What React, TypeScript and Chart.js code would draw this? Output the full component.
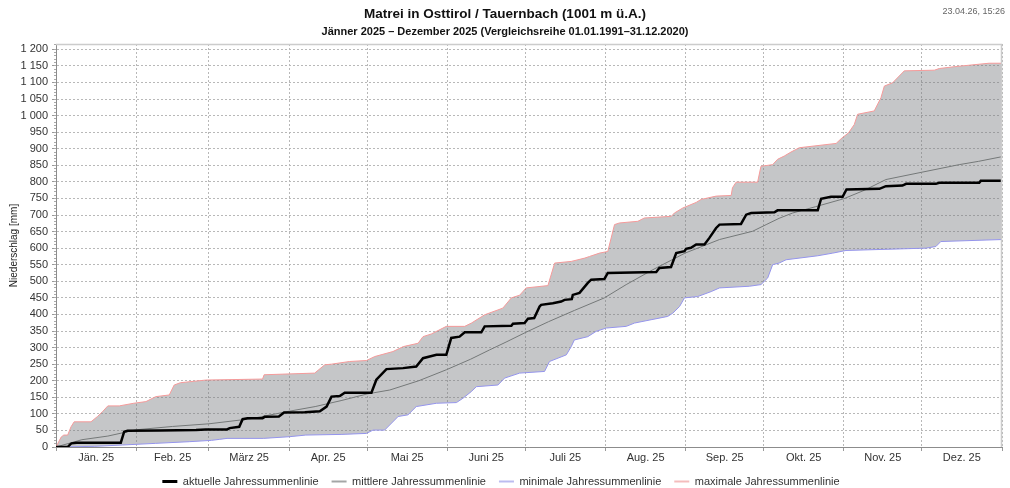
import { useEffect, useRef } from 'react';
import { Chart, registerables } from 'chart.js';

Chart.register(...registerables);

const FONT = '"Liberation Sans", Arial, Helvetica, sans-serif';

const TITLE = 'Matrei in Osttirol / Tauernbach (1001 m ü.A.)';
const SUBTITLE = 'Jänner 2025 – Dezember 2025 (Vergleichsreihe 01.01.1991–31.12.2020)';
const STAMP = '23.04.26, 15:26';
const Y_TITLE = 'Niederschlag [mm]';

// day-of-year at which each month starts (last = end of year)
const monthStarts = [0, 31, 59, 90, 120, 151, 181, 212, 243, 273, 304, 334, 365];
const monthLabels = ['Jän. 25', 'Feb. 25', 'März 25', 'Apr. 25', 'Mai 25', 'Juni 25', 'Juli 25', 'Aug. 25', 'Sep. 25', 'Okt. 25', 'Nov. 25', 'Dez. 25'];
const yTickValues = [0, 50, 100, 150, 200, 250, 300, 350, 400, 450, 500, 550, 600, 650, 700, 750, 800, 850, 900, 950, 1000, 1050, 1100, 1150, 1200];

const seriesLabels = ['aktuelle Jahressummenlinie', 'mittlere Jahressummenlinie', 'minimale Jahressummenlinie', 'maximale Jahressummenlinie'];
const legendColors = ['#000000', '#a4a6a6', '#bcbcf0', '#f4bcbc'];

// [day of year, cumulative precipitation mm]
const actualLine: [number, number][] = [
  [0, 0], [4.5, 0], [5.5, 8], [6, 11], [8, 13], [25, 13], [26.3, 46], [27.6, 49], [40, 50], [54, 51], [57.8, 53], [66, 53], [67, 57], [70.7, 61],
  [72, 84], [73.9, 87], [79.7, 87], [80.5, 91], [86, 92], [88, 104], [96, 105], [101.8, 108], [104.4, 122], [106.3, 152], [109.5, 154],
  [111.4, 164], [121.7, 164], [123.6, 203], [127.5, 235], [133.9, 238], [139, 243], [141.6, 268], [146.8, 278], [150.6, 278], [152.5, 329],
  [155.7, 333], [157.7, 346], [164.1, 346], [165.4, 364], [175.7, 366], [176.3, 372], [180.8, 374], [182.1, 387], [184.5, 389], [186.6, 424],
  [187.2, 429], [191.7, 434], [194.9, 439], [196.2, 444], [199, 446], [199.4, 459], [202, 465], [205.2, 495], [206.5, 505], [211.6, 507],
  [212.9, 525], [231.6, 528], [232.8, 540], [237.3, 543], [239.3, 585], [242.5, 591], [243.1, 598], [245, 601], [247, 611], [250.2, 611],
  [252.1, 631], [254.7, 661], [256, 671], [264.3, 673], [266.3, 701], [268.2, 706], [277.2, 708], [278.4, 714], [293.9, 714], [295.2, 749],
  [299, 755], [303.5, 755], [305, 777], [317.7, 779], [320.2, 787], [326.6, 789], [328, 794], [339.5, 794], [340.8, 797], [356.2, 797],
  [356.8, 803], [365, 803],
];

const meanLine: [number, number][] = [
  [0, 0], [10, 22], [20, 33], [31, 52], [45, 62], [59, 70], [75, 85], [90, 108], [100, 122], [110, 140], [120, 160], [128.8, 172], [140, 200],
  [150.6, 233], [160, 265], [167.3, 293], [174, 318], [181, 345], [190, 378], [200, 412], [211.6, 450], [220, 490], [230.3, 535], [242.7, 585],
  [256, 626], [268.8, 651], [274, 671], [279, 690], [284.2, 706], [293, 725], [303.9, 749], [312, 775], [320.2, 807], [334, 829], [348.5, 852],
  [356, 862], [365, 876],
];

const minLine: [number, number][] = [
  [0, 0], [15, 2], [25.7, 6], [38.5, 11], [51.4, 16], [60, 20], [63, 23], [66, 26], [80, 26], [90, 31], [96.4, 36], [110, 38], [119.8, 41],
  [122.3, 51], [126.8, 51], [132, 92], [135.8, 97], [139, 122], [146.8, 132], [154.5, 134], [157, 147], [160.2, 167], [162.2, 182], [170.5, 187],
  [173.1, 208], [178.9, 223], [188.5, 228], [190.4, 258], [196.9, 278], [198.8, 303], [200, 323], [205.2, 333], [208.4, 349], [212.3, 359],
  [220, 364], [223.2, 374], [229.6, 384], [236, 394], [238, 404], [240.6, 424], [242.5, 450], [247.6, 454], [252.8, 469], [256, 480],
  [267.5, 485], [272, 490], [274.6, 510], [276.5, 550], [279, 555], [281.7, 565], [293.9, 577], [299.7, 585], [304.8, 593], [335.7, 600],
  [339.5, 605], [341.4, 620], [365, 626],
];

const maxLine: [number, number][] = [
  [0, 0], [2, 30], [3, 36], [4.5, 36], [5.8, 61], [7, 76], [13.5, 76], [16, 92], [18, 107], [20, 124], [24.4, 124], [30, 132], [34.7, 137],
  [38.5, 152], [43.7, 157], [45.6, 187], [48, 194], [57.8, 202], [79.7, 205], [80.3, 218], [99.8, 223], [103.7, 248], [106.3, 250],
  [113.3, 258], [119.8, 261], [123, 273], [130, 288], [134, 303], [139.7, 313], [141.6, 333], [144.8, 341], [150.6, 364], [157.7, 364],
  [160.3, 374], [165.4, 399], [172.4, 419], [175.7, 450], [178.9, 458], [181.4, 480], [189.8, 487], [192.4, 555], [198.8, 560], [201.4, 565],
  [204, 570], [205.9, 575], [209.7, 585], [212.9, 590], [215.5, 671], [217.4, 676], [224.5, 681], [227, 691], [237.4, 696], [238.6, 706],
  [241.8, 721], [247, 738], [248.9, 747], [254.7, 757], [260.5, 759], [261, 782], [262.4, 799], [270.7, 799], [272, 847], [276.5, 852],
  [278.4, 868], [281, 878], [283.6, 890], [286.8, 903], [301, 916], [302.9, 930], [305.8, 948], [308, 973], [309.3, 1004], [315.7, 1014],
  [318.3, 1054], [319.6, 1089], [322.8, 1099], [327.3, 1135], [338.9, 1137], [340.8, 1142], [347.2, 1148], [360, 1158], [365, 1158],
];

const monthMids = monthLabels.map((_, i) => (monthStarts[i] + monthStarts[i + 1]) / 2);
const xTickValues = [...monthStarts, ...monthMids].sort((a, b) => a - b);

const toPoints = (arr: [number, number][]) => arr.map(([x, y]) => ({ x, y }));
const fmt = (v: number) => String(v).replace(/\B(?=(\d{3})+(?!\d))/g, ' ');

const headerPlugin = {
  id: 'header',
  afterDraw(chart: any) {
    const { ctx, chartArea: a } = chart;
    ctx.save();
    ctx.strokeStyle = '#cccccc';
    ctx.lineWidth = 1.5;
    ctx.beginPath();
    ctx.moveTo(a.left, a.top + 0.5);
    ctx.lineTo(a.right - 0.5, a.top + 0.5);
    ctx.lineTo(a.right - 0.5, a.bottom);
    ctx.stroke();

    ctx.fillStyle = '#111';
    ctx.textAlign = 'center';
    ctx.textBaseline = 'middle';
    ctx.font = `bold 13.5px ${FONT}`;
    ctx.fillText(TITLE, chart.width / 2, 14);
    ctx.font = `bold 11px ${FONT}`;
    ctx.fillText(SUBTITLE, chart.width / 2, 32);
    ctx.font = `9px ${FONT}`;
    ctx.fillStyle = '#666';
    ctx.textAlign = 'right';
    ctx.fillText(STAMP, 1005, 12);
    ctx.restore();
  },
};

export default function App() {
  const ref = useRef<HTMLCanvasElement>(null);

  useEffect(() => {
    const isStart = (v: any) => monthStarts.includes(v);
    const defaultLabels = (Chart.defaults as any).plugins.legend.labels.generateLabels;
    const chart = new Chart(ref.current as HTMLCanvasElement, {
      type: 'line',
      data: {
        datasets: [
          { label: seriesLabels[0], data: toPoints(actualLine), borderColor: '#000000', backgroundColor: '#000000', borderWidth: 2.5, pointRadius: 0, fill: false },
          { label: seriesLabels[1], data: toPoints(meanLine), borderColor: '#747878', backgroundColor: '#747878', borderWidth: 1, pointRadius: 0, fill: false },
          { label: seriesLabels[2], data: toPoints(minLine), borderColor: '#9494ec', backgroundColor: '#9494ec', borderWidth: 1, pointRadius: 0, fill: false },
          { label: seriesLabels[3], data: toPoints(maxLine), borderColor: '#f59a9a', backgroundColor: 'rgba(120,122,128,0.43)', borderWidth: 1, pointRadius: 0, fill: { target: 2 } },
        ],
      } as any,
      options: {
        responsive: false,
        animation: false,
        events: [],
        layout: { padding: { top: 44, right: 8, left: 0, bottom: 0 } },
        scales: {
          x: {
            type: 'linear',
            min: 0,
            max: 365,
            afterBuildTicks: (s: any) => { s.ticks = xTickValues.map((v) => ({ value: v })); },
            afterFit: (s: any) => { s.height = 16; },
            ticks: {
              autoSkip: false,
              maxRotation: 0,
              padding: 0,
              color: '#333',
              font: { family: FONT, size: 11 },
              callback: (v: any) => { const i = monthMids.indexOf(v); return i >= 0 ? monthLabels[i] : ''; },
            },
            grid: {
              color: (c: any) => (isStart(c.tick?.value) ? '#b8b8b8' : 'rgba(0,0,0,0)'),
              tickColor: (c: any) => (isStart(c.tick?.value) ? '#999' : 'rgba(0,0,0,0)'),
              tickLength: 4,
              lineWidth: 1,
            },
            border: { display: true, color: '#8c8c8c', dash: [2, 2] },
          },
          y: {
            type: 'linear',
            position: 'left',
            weight: 1,
            min: 0,
            max: 1216,
            afterBuildTicks: (s: any) => { s.ticks = yTickValues.map((v) => ({ value: v })); },
            afterFit: (s: any) => { s.width = 56; },
            ticks: { padding: 4, color: '#333', font: { family: FONT, size: 11 }, callback: (v: any) => fmt(v) },
            grid: { color: '#b8b8b8', tickColor: '#999', tickLength: 4, lineWidth: 1 },
            border: { display: true, color: '#8c8c8c', dash: [2, 2] },
            title: { display: true, text: Y_TITLE, color: '#222', font: { family: FONT, size: 10 }, padding: { top: 8, bottom: 0 } },
          },
          yMinor: {
            type: 'linear',
            position: 'left',
            weight: 0,
            min: 0,
            max: 1216,
            ticks: { display: false, stepSize: 10 },
            afterFit: (s: any) => { s.width = 0; },
            grid: { drawOnChartArea: false, tickLength: 2, tickColor: '#aaa' },
            border: { display: false },
          },
        },
        plugins: {
          title: { display: false },
          tooltip: { enabled: false },
          legend: {
            position: 'bottom',
            maxHeight: 25,
            labels: {
              usePointStyle: true,
              pointStyle: 'line',
              pointStyleWidth: 15,
              padding: 13,
              color: '#333',
              font: { family: FONT, size: 11 },
              generateLabels: (ch: any) =>
                defaultLabels(ch).map((l: any, i: number) => ({
                  ...l,
                  strokeStyle: legendColors[i],
                  lineWidth: i === 0 ? 3 : 2,
                })),
            },
          },
        },
      } as any,
      plugins: [headerPlugin],
    });
    return () => chart.destroy();
  }, []);

  return (
    <div style={{ position: 'absolute', left: 0, top: 0, width: 1010, height: 488, background: '#fff' }}>
      <canvas ref={ref} width={1010} height={488} style={{ display: 'block' }} />
    </div>
  );
}
